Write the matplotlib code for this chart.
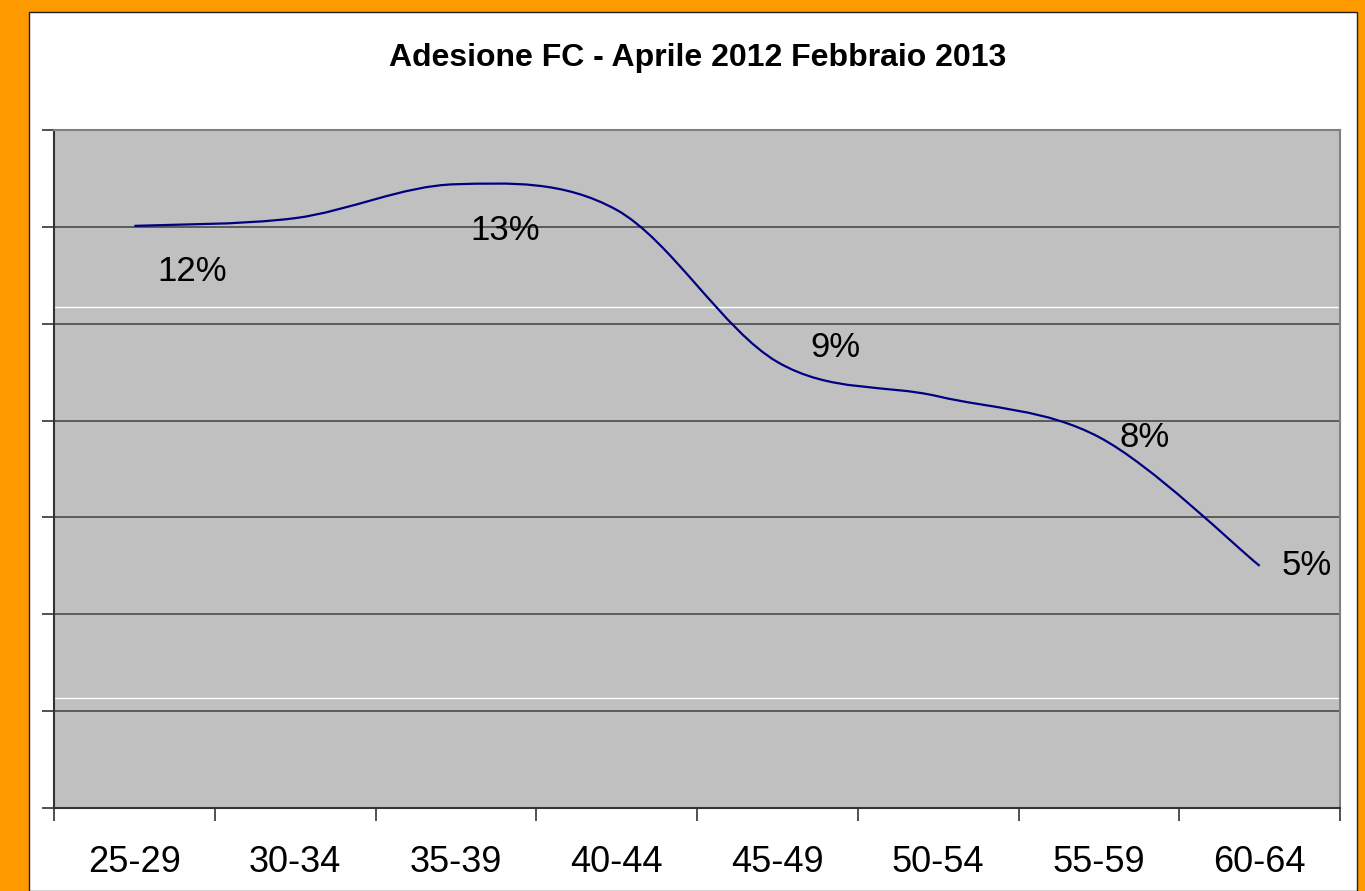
import numpy as np
import matplotlib
matplotlib.use('Agg')
import matplotlib.pyplot as plt
from matplotlib.path import Path
from matplotlib.patches import PathPatch, Rectangle

plt.rcParams['font.family'] = ['Liberation Sans', 'DejaVu Sans']

# data
fasce = ['25-29', '30-34', '35-39', '40-44', '45-49', '50-54', '55-59', '60-64']
adesione = [12.02, 12.18, 12.88, 12.35, 9.21, 8.50, 7.66, 5.00]
etichette = {0: '12%', 2: '13%', 4: '9%', 6: '8%', 7: '5%'}
# label offsets in pixels (dx, dy)
offsets = {0: (58, -46), 2: (49, -46), 4: (58, 14), 6: (46, 0), 7: (47, 0)}

fig = plt.figure(figsize=(13.65, 8.91), dpi=100)
fig.patch.set_facecolor('#FF9900')
# white panel
fig.patches.append(Rectangle((29 / 1365, 0), (1357 - 29) / 1365, 1 - 12 / 891,
                             transform=fig.transFigure, facecolor='white',
                             edgecolor='#222222', linewidth=1, zorder=-1))

ax = fig.add_axes([54 / 1365, 1 - 808 / 891, (1340 - 54) / 1365, (808 - 130) / 891])
ax.set_facecolor('#C0C0C0')

x = np.arange(len(fasce))
y = np.array(adesione)

# smoothed line (bezier like the spreadsheet "smoothed line")
verts = [(x[0], y[0])]
codes = [Path.MOVETO]
n = len(x)
for i in range(n - 1):
    p0 = np.array([x[max(i - 1, 0)], y[max(i - 1, 0)]])
    p1 = np.array([x[i], y[i]])
    p2 = np.array([x[i + 1], y[i + 1]])
    p3 = np.array([x[min(i + 2, n - 1)], y[min(i + 2, n - 1)]])
    c1 = p1 + (p2 - p0) / 6
    c2 = p2 - (p3 - p1) / 6
    verts += [tuple(c1), tuple(c2), tuple(p2)]
    codes += [Path.CURVE4] * 3
ax.add_patch(PathPatch(Path(verts, codes), facecolor='none', edgecolor='#000080',
                       linewidth=1.6, zorder=3))

for i, txt in etichette.items():
    dx, dy = offsets[i]
    ax.annotate(txt, (x[i], y[i]), xytext=(dx, dy), textcoords='offset pixels',
                ha='center', va='center', fontsize=25, color='black', zorder=4)

ax.set_xlim(-0.5, 7.5)
ax.set_ylim(0, 14)
ax.set_yticks(np.arange(0, 15, 2))
ax.set_yticklabels([])
ax.yaxis.grid(True, color='#4a4a4a', linewidth=1.2)
# white streaks seen across the plot area
for yy in (10.34, 2.27):
    ax.axhline(yy, color='white', linewidth=1, zorder=1)
ax.set_axisbelow(True)

ax.set_xticks(np.arange(-0.5, 8, 1))
ax.set_xticklabels([])
ax.set_xticks(x, minor=True)
ax.set_xticklabels(fasce, minor=True, fontsize=26)
ax.tick_params(axis='x', which='minor', length=0, pad=27)
ax.tick_params(axis='both', which='major', length=9, width=1.2, color='#333333',
               direction='out')

for s in ('left', 'bottom'):
    ax.spines[s].set_color('#333333')
    ax.spines[s].set_linewidth(1.5)
for s in ('top', 'right'):
    ax.spines[s].set_color('#808080')
    ax.spines[s].set_linewidth(1.5)

fig.text(698 / 1365, 1 - 58 / 891, 'Adesione FC - Aprile 2012 Febbraio 2013',
         ha='center', va='center', fontsize=23, fontweight='bold')

fig.savefig('out.png', dpi=100, facecolor=fig.get_facecolor())
